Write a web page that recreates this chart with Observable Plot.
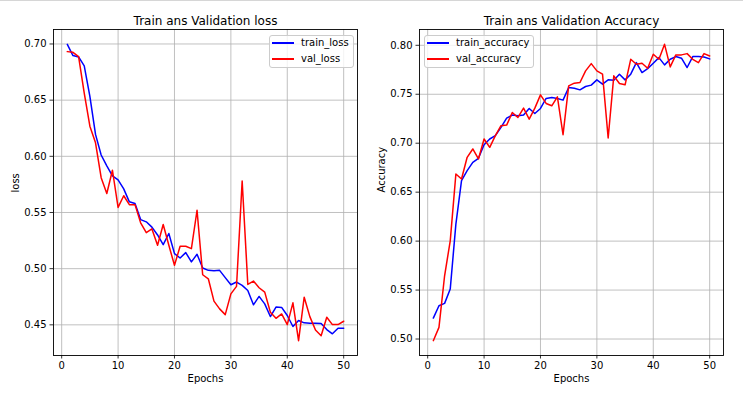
<!DOCTYPE html>
<html><head><meta charset="utf-8">
<script src="https://cdn.jsdelivr.net/npm/d3@7"></script>
<script src="https://cdn.jsdelivr.net/npm/@observablehq/plot@0.6"></script>
<style>
html,body{margin:0;padding:0;background:#fff;}
#fig{position:relative;width:743px;height:394px;overflow:hidden;font-family:"DejaVu Sans",sans-serif;}
#topline{position:absolute;left:0;top:0;width:743px;height:1px;background:#d6d6d6;}
.panel{position:absolute;top:0;}
.legend{position:absolute;box-sizing:border-box;border:1px solid #cccccc;border-radius:3px;background:rgba(255,255,255,0.8);font-size:10px;color:#000;}
.legend svg{position:absolute;left:0;top:0;overflow:visible;}
.legend .lb{position:absolute;line-height:12px;white-space:nowrap;}
</style>
</head><body>
<div id="fig"><div id="topline"></div></div>
<script>
// ---- data ----
const epochs = [1,2,3,4,5,6,7,8,9,10,11,12,13,14,15,16,17,18,19,20,21,22,23,24,25,26,27,28,29,30,31,32,33,34,35,36,37,38,39,40,41,42,43,44,45,46,47,48,49,50];
const trainLoss = [0.6997,0.6897,0.6885,0.6805,0.6534,0.6195,0.6012,0.5915,0.5826,0.5790,0.5710,0.5595,0.5580,0.5437,0.5417,0.5370,0.5300,0.5214,0.5313,0.5134,0.5095,0.5143,0.5060,0.5128,0.5006,0.4985,0.4982,0.4985,0.4920,0.4857,0.4881,0.4851,0.4806,0.4678,0.4753,0.4687,0.4574,0.4658,0.4655,0.4583,0.4485,0.4539,0.4518,0.4515,0.4515,0.4512,0.4458,0.4420,0.4470,0.4470];
const valLoss = [0.6932,0.6926,0.6888,0.6563,0.6268,0.6120,0.5810,0.5669,0.5876,0.5545,0.5649,0.5570,0.5570,0.5408,0.5320,0.5354,0.5208,0.5393,0.5208,0.5030,0.5199,0.5199,0.5178,0.5520,0.4946,0.4910,0.4711,0.4642,0.4591,0.4776,0.4842,0.5781,0.4860,0.4890,0.4830,0.4791,0.4612,0.4558,0.4597,0.4502,0.4696,0.4359,0.4746,0.4573,0.4454,0.4403,0.4567,0.4502,0.4502,0.4532];
const trainAcc = [0.5214,0.5340,0.5364,0.5510,0.6173,0.6618,0.6720,0.6805,0.6846,0.6985,0.7043,0.7077,0.7162,0.7257,0.7287,0.7280,0.7287,0.7355,0.7304,0.7355,0.7457,0.7467,0.7457,0.7440,0.7569,0.7562,0.7545,0.7579,0.7593,0.7647,0.7603,0.7647,0.7644,0.7705,0.7647,0.7705,0.7823,0.7722,0.7762,0.7817,0.7874,0.7800,0.7857,0.7885,0.7868,0.7773,0.7885,0.7885,0.7881,0.7861];
const valAcc = [0.4983,0.5119,0.5646,0.6003,0.6686,0.6635,0.6856,0.6941,0.6839,0.7043,0.6958,0.7077,0.7179,0.7185,0.7314,0.7263,0.7358,0.7246,0.7358,0.7494,0.7406,0.7382,0.7474,0.7087,0.7586,0.7613,0.7620,0.7739,0.7813,0.7739,0.7705,0.7053,0.7688,0.7610,0.7596,0.7857,0.7806,0.7817,0.7766,0.7908,0.7857,0.8010,0.7779,0.7902,0.7902,0.7915,0.7857,0.7823,0.7915,0.7891];
const xTicks = [0,10,20,30,40,50];
const lossTicks = [0.45,0.50,0.55,0.60,0.65,0.70];
const accTicks = [0.50,0.55,0.60,0.65,0.70,0.75,0.80];
const lossNames = ["train_loss","val_loss"];
const accNames = ["train_accuracy","val_accuracy"];
const seriesColors = ["blue","red"];
const titles = ["Train ans Validation loss","Train ans Validation Accuracy"];
const yLabels = ["loss","Accuracy"];
const xLabel = "Epochs";

const fig = document.getElementById("fig");
const NS = "http://www.w3.org/2000/svg";

function panel({train, val, names, title, ylabel, yticks, left, width, ml, mr, legend}) {
  const rows = [];
  epochs.forEach((e, i) => {
    rows.push({epoch: e, value: train[i], series: names[0]});
    rows.push({epoch: e, value: val[i], series: names[1]});
  });
  const [lo, hi] = d3.extent(train.concat(val));
  const pad = (hi - lo) * 0.05;
  const [xlo, xhi] = d3.extent(epochs);
  const xp = (xhi - xlo) * 0.05;
  const grid = {stroke: "#b0b0b0", strokeOpacity: 1, strokeWidth: 0.8};
  const svg = Plot.plot({
    width, height: 394, marginLeft: ml, marginRight: mr, marginTop: 29, marginBottom: 39,
    style: {fontFamily: '"DejaVu Sans", sans-serif', fontSize: "10px", color: "#000", background: "transparent", overflow: "visible"},
    x: {domain: [xlo - xp, xhi + xp]},
    y: {domain: [lo - pad, hi + pad]},
    color: {domain: names, range: seriesColors},
    marks: [
      Plot.gridX(xTicks, grid),
      Plot.gridY(yticks, grid),
      Plot.line(rows, {x: "epoch", y: "value", z: "series", stroke: "series", strokeWidth: 1.5}),
      Plot.frame({stroke: "#000", strokeWidth: 0.9}),
      Plot.axisX(xTicks, {tickSize: 3.5, tickPadding: 3, tickFormat: d => String(d), label: null, strokeWidth: 0.8}),
      Plot.axisY(yticks, {tickSize: 3.5, tickPadding: 3.5, tickFormat: d3.format(".2f"), label: null, strokeWidth: 0.8}),
      Plot.text([title], {text: d => d, frameAnchor: "top", dy: -13, fontSize: 12}),
      Plot.text([xLabel], {text: d => d, frameAnchor: "bottom", dy: 26}),
      Plot.text([ylabel], {text: d => d, frameAnchor: "left", dx: -38, rotate: -90})
    ]
  });
  svg.classList.add("panel");
  svg.style.left = left + "px";
  fig.appendChild(svg);

  const lg = document.createElement("div");
  lg.className = "legend";
  lg.style.left = legend.x + "px";
  lg.style.top = legend.y + "px";
  lg.style.width = legend.w + "px";
  lg.style.height = legend.h + "px";
  const sw = document.createElementNS(NS, "svg");
  sw.setAttribute("width", legend.w);
  sw.setAttribute("height", legend.h);
  names.forEach((n, i) => {
    const ln = document.createElementNS(NS, "line");
    ln.setAttribute("x1", 2);
    ln.setAttribute("x2", 24);
    ln.setAttribute("y1", 7 + i * 16);
    ln.setAttribute("y2", 7 + i * 16);
    ln.setAttribute("stroke", seriesColors[i]);
    ln.setAttribute("stroke-width", 2);
    sw.appendChild(ln);
    const lb = document.createElement("div");
    lb.className = "lb";
    lb.style.left = "31px";
    lb.style.top = (1 + i * 16) + "px";
    lb.textContent = n;
    lg.appendChild(lb);
  });
  lg.appendChild(sw);
  fig.appendChild(lg);
}

panel({train: trainLoss, val: valLoss, names: lossNames, title: titles[0], ylabel: yLabels[0], yticks: lossTicks,
  left: 0, width: 380, ml: 53, mr: 23, legend: {x: 269, y: 35, w: 85, h: 33}});
panel({train: trainAcc, val: valAcc, names: accNames, title: titles[1], ylabel: yLabels[1], yticks: accTicks,
  left: 380, width: 363, ml: 39, mr: 20, legend: {x: 424, y: 35, w: 110, h: 33}});
</script>
</body></html>
